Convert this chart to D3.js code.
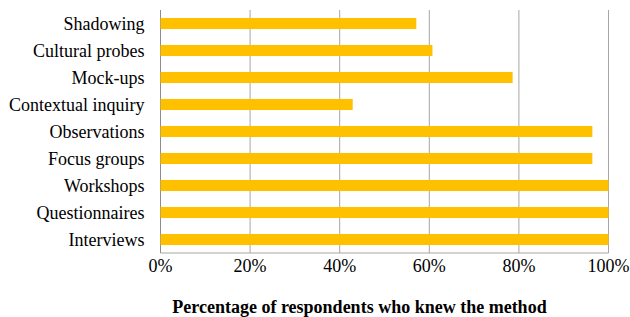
<!DOCTYPE html>
<html lang="en">
<head>
    <meta charset="UTF-8">
    <script src="https://d3js.org/d3.v7.min.js"></script>
    <title>Methods known by respondents</title>
    <style>
        body { margin: 0; background: #fff; }
    </style>
</head>
<body>
    <script>
        var w = 630;
        var h = 317;

        // top to bottom as shown
        var methods = ["Shadowing", "Cultural probes", "Mock-ups", "Contextual inquiry",
                       "Observations", "Focus groups", "Workshops", "Questionnaires", "Interviews"];
        var knew = [57.1, 60.7, 78.6, 42.9, 96.4, 96.4, 100, 100, 100];
        var ticks = [0, 20, 40, 60, 80, 100];

        var plotLeft = 160.5, plotRight = 608.5, plotTop = 10, plotBottom = 253;

        var x = d3.scaleLinear()
                  .domain([0, 100])
                  .range([plotLeft, plotRight]);

        var y = d3.scaleBand()
                  .domain(methods)
                  .range([plotTop, plotBottom])
                  .paddingInner(0.59)
                  .paddingOuter(0.295);

        var svg = d3.select("body")
                    .append("svg")
                    .attr("width", w)
                    .attr("height", h)
                    .attr("font-family", "'Liberation Serif', 'Times New Roman', serif")
                    .attr("fill", "#000");

        // gridlines
        svg.selectAll("line.grid")
           .data(ticks)
           .enter()
           .append("line")
           .attr("class", "grid")
           .attr("x1", function(d) { return x(d); })
           .attr("x2", function(d) { return x(d); })
           .attr("y1", plotTop)
           .attr("y2", plotBottom)
           .attr("stroke", function(d) { return d === 0 ? "#8c8c8c" : "#a6a6a6"; })
           .attr("stroke-width", 1);

        svg.append("line")
           .attr("x1", plotLeft)
           .attr("x2", plotRight)
           .attr("y1", plotBottom)
           .attr("y2", plotBottom)
           .attr("stroke", "#a6a6a6");

        svg.selectAll("rect.bar")
           .data(knew)
           .enter()
           .append("rect")
           .attr("class", "bar")
           .attr("x", x(0))
           .attr("y", function(d, i) { return y(methods[i]); })
           .attr("width", function(d) { return x(d) - x(0); })
           .attr("height", y.bandwidth())
           .attr("fill", "#ffc000");

        svg.selectAll("text.cat")
           .data(methods)
           .enter()
           .append("text")
           .attr("class", "cat")
           .attr("x", plotLeft - 16)
           .attr("y", function(d) { return y(d) + y.bandwidth() / 2; })
           .attr("dy", "0.35em")
           .attr("text-anchor", "end")
           .attr("font-size", 18)
           .text(function(d) { return d; });

        svg.selectAll("text.tick")
           .data(ticks)
           .enter()
           .append("text")
           .attr("class", "tick")
           .attr("x", function(d) { return x(d); })
           .attr("y", 272)
           .attr("text-anchor", "middle")
           .attr("font-size", 18)
           .text(function(d) { return d + "%"; });

        svg.append("text")
           .attr("x", 359.5)
           .attr("y", 312.5)
           .attr("text-anchor", "middle")
           .attr("font-size", 18)
           .attr("font-weight", "bold")
           .text("Percentage of respondents who knew the method");
    </script>
</body>
</html>
